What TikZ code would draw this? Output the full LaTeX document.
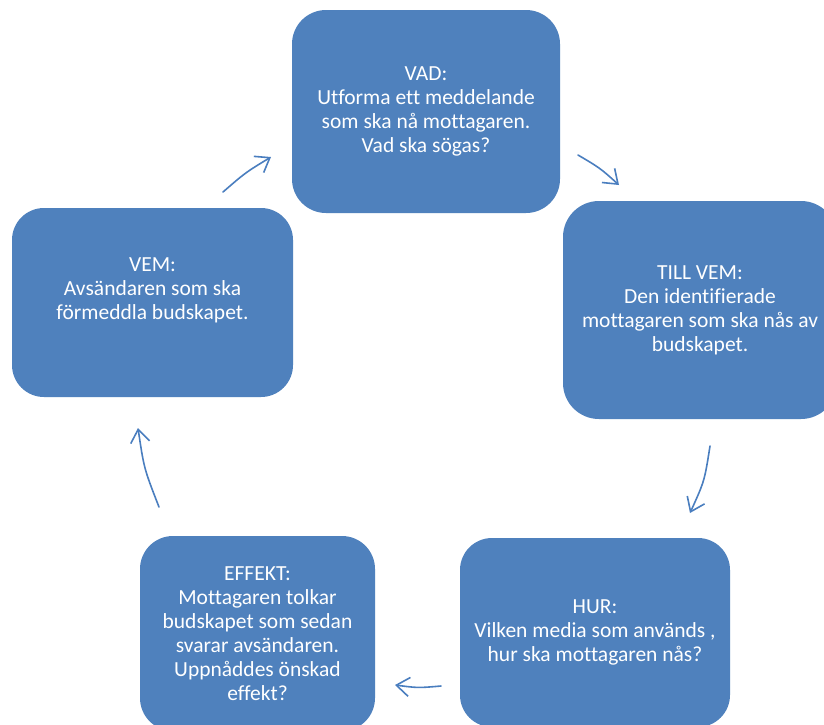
\documentclass[tikz,border=0pt]{standalone}
\usepackage{fontspec}
\setmainfont{Carlito}[Ligatures=NoCommon]
\usetikzlibrary{arrows.meta}
\definecolor{boxblue}{HTML}{4F81BD}
\definecolor{arrowblue}{HTML}{4A7EBF}
\begin{document}
\begin{tikzpicture}[x=1pt,y=-1pt,
  stagebox/.style={rectangle, fill=boxblue, draw=none, inner sep=0pt,
    text=white, align=center, font=\fontsize{21.5}{24}\selectfont},
  cyclearrow/.style={draw=arrowblue, line width=1.6pt, line cap=round,
    -{Straight Barb[length=13pt,width=19pt,line width=1.6pt]}}
]
\useasboundingbox (0,0) rectangle (824,724);
\fill[white] (0,0) rectangle (824,724);
\clip (0,0) rectangle (824,724);

\node[stagebox, minimum width=268pt, minimum height=203pt, rounded corners=34pt] (vad) at (426,111.5)
  {VAD:\\Utforma ett meddelande\\som ska nå mottagaren.\\Vad ska sögas?};
\node[stagebox, minimum width=274pt, minimum height=218pt, rounded corners=36pt] (tillvem) at (700,310)
  {TILL VEM:\\Den identifierade\\mottagaren som ska nås av\\budskapet.};
\node[stagebox, minimum width=270pt, minimum height=189pt, rounded corners=32pt] (hur) at (595,632.5)
  {HUR:\\Vilken media som används ,\\hur ska mottagaren nås?};
\node[stagebox, minimum width=235pt, minimum height=195pt, rounded corners=33pt] (effekt) at (257.5,633.5)
  {EFFEKT:\\Mottagaren tolkar\\budskapet som sedan\\svarar avsändaren.\\Uppnåddes önskad\\effekt?};
\node[stagebox, minimum width=281pt, minimum height=189pt, rounded corners=32pt] (vem) at (152.5,302.5)
  {VEM:\\Avsändaren som ska\\förmeddla budskapet.\rule[-27pt]{0pt}{27pt}};

% arrow end points
\coordinate (a1s) at (223,192);   \coordinate (a1e) at (271,157);
\coordinate (a2s) at (578,155);   \coordinate (a2e) at (619,185);
\coordinate (a3s) at (710,446);   \coordinate (a3e) at (690,513);
\coordinate (a4s) at (441,686);   \coordinate (a4e) at (395,685);
\coordinate (a5s) at (159,507);   \coordinate (a5e) at (138,428);

\draw[cyclearrow] (a1s) .. controls (245.5,172.5) .. (a1e);
\draw[cyclearrow] (a2s) .. controls (600,168) .. (a2e);
\draw[cyclearrow] (a3s) .. controls (704.5,481) .. (a3e);
\draw[cyclearrow] (a4s) .. controls (418,688) .. (a4e);
\draw[cyclearrow] (a5s) .. controls (144,468.5) .. (a5e);
\end{tikzpicture}
\end{document}
